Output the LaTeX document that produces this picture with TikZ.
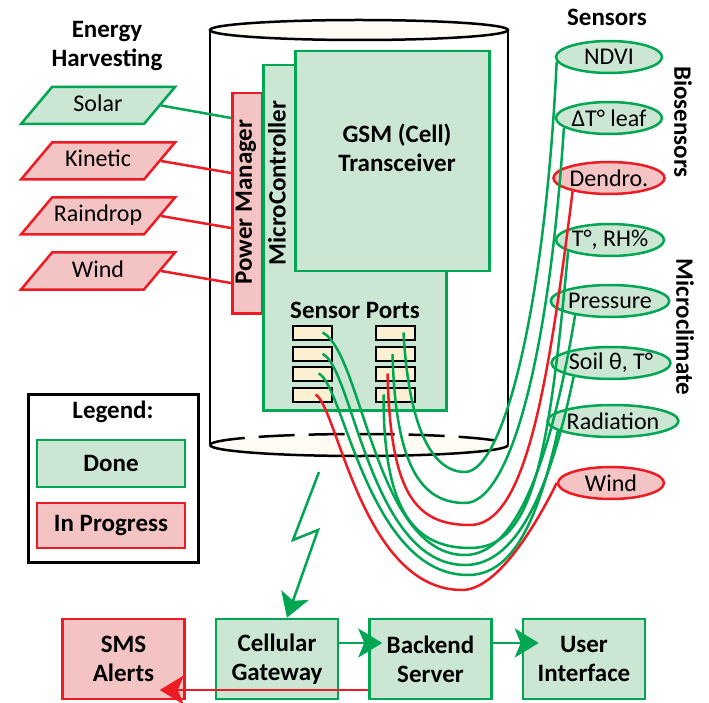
\documentclass[tikz,border=0pt]{standalone}
\usepackage{fontspec}
\setmainfont{Carlito}
\usetikzlibrary{arrows.meta,shapes.geometric}
\definecolor{donegreen}{HTML}{00A651}
\definecolor{donefill}{HTML}{CCE6D4}
\definecolor{progred}{HTML}{ED1C24}
\definecolor{progfill}{HTML}{F4C3C3}
\definecolor{portcream}{HTML}{FCF0D2}
\definecolor{caseshade}{HTML}{FDFBF3}

\begin{document}
\begin{tikzpicture}[x=1pt, y=-1pt, line width=2.5pt,
  font=\fontsize{24}{29}\selectfont,
  done/.style={draw=donegreen, fill=donefill},
  prog/.style={draw=progred, fill=progfill},
  head/.style={font=\fontsize{25}{29}\selectfont\bfseries, align=center},
  harvest/.style={trapezium, trapezium left angle=50, trapezium right angle=130,
    trapezium stretches body, minimum width=154pt, text height=17pt, text depth=5pt,
    inner xsep=0pt, inner ysep=7.5pt},
  sensor/.style={ellipse, minimum width=106pt, minimum height=32pt, inner sep=0pt},
  port/.style={draw=black, fill=portcream, line width=2pt, minimum width=39pt,
    minimum height=14pt, inner sep=0pt},
  stage/.style={head, rectangle, minimum width=122pt, minimum height=80pt},
  gwire/.style={donegreen},
  rwire/.style={progred},
  bigtip/.style={-{Stealth[length=24pt, width=29pt, inset=6pt]}}]
  \useasboundingbox (0,0) rectangle (709,703);

  % the case
  \draw (210,30) -- (210,445);
  \draw (508,30) -- (508,445);
  \fill[caseshade] (359,445) ellipse [x radius=149, y radius=11];
  \draw (210,445) arc [start angle=180, end angle=0, x radius=149, y radius=11];
  \draw[dash pattern=on 36pt off 14pt] (210,445) arc [start angle=180, end angle=360, x radius=149, y radius=11];
  \filldraw[fill=caseshade] (359,30) ellipse [x radius=149, y radius=10];

  % boards
  \node[prog, minimum width=30pt, minimum height=220pt, anchor=north west] (pm) at (231,92) {};
  \node[done, minimum width=183pt, minimum height=345pt, anchor=north west] (mc) at (262,64) {};
  \node[done, minimum width=194pt, minimum height=220pt, anchor=north west] (gsm) at (294,50) {};
  \node[head, rotate=90] at (246,202) {Power Manager};
  \node[head, rotate=90] at (277,183) {MicroController};
  \node[head] at (397,148) {GSM (Cell)\\Transceiver};
  \node[head] at (355,310) {Sensor Ports};
  \foreach \r [count=\i] in {332.5,354,373.5,394.5} {
    \node[port] (lp\i) at (312.5,\r) {};
    \node[port] (rp\i) at (395.5,\r) {};
  }

  % energy harvesting
  \node[head] at (107,46) {Energy\\Harvesting};
  \node[harvest, done] (solar) at (98,105.5) {Solar};
  \node[harvest, prog] (kinetic) at (98,161) {Kinetic};
  \node[harvest, prog] (rain) at (98,216) {Raindrop};
  \node[harvest, prog] (hwind) at (98,271) {Wind};
  \draw[gwire] (solar.east) -- ([yshift=-26pt]pm.north west);
  \draw[rwire] (kinetic.east) -- ([yshift=-81pt]pm.north west);
  \draw[rwire] (rain.east) -- ([yshift=-136pt]pm.north west);
  \draw[rwire] (hwind.east) -- ([yshift=-191pt]pm.north west);

  % sensors
  \node[head] at (607,17) {Sensors};
  \node[head, rotate=-90] at (683,122) {Biosensors};
  \node[head, rotate=-90] at (685,327) {Microclimate};
  \node[sensor, done] (ndvi) at (609,57) {NDVI};
  \node[sensor, done] (dtleaf) at (609,118) {ΔT° leaf};
  \node[sensor, prog] (dendro) at (609,178) {Dendro.};
  \node[sensor, done] (trh) at (610,240) {T°, RH\%};
  \node[sensor, done] (press) at (610,301) {Pressure};
  \node[sensor, done] (soil) at (611,363) {Soil θ, T°};
  \node[sensor, done] (rad) at (613,421) {Radiation};
  \node[sensor, prog] (swind) at (611,483) {Wind};

  % cables
  \coordinate (u1) at (465,472);
  \coordinate (u2) at (465,503);
  \coordinate (u3) at (470,525);
  \coordinate (u4) at (470,548);
  \coordinate (u5) at (465,555);
  \coordinate (u6) at (465,565);
  \coordinate (u7) at (468,575);
  \coordinate (u8) at (462,590);
  \draw[gwire] ([xshift=8pt]rp1.center) .. controls +(5,90) and +(-35,0) .. (u1)
    .. controls +(38,0) and +(-12,250) .. (ndvi.185);
  \draw[gwire] ([xshift=-3pt]rp2.center) .. controls +(3,110) and +(-45,0) .. (u2)
    .. controls +(45,0) and +(-15,230) .. (dtleaf.192);
  \draw[rwire] ([xshift=-8pt]rp3.center) .. controls +(3,120) and +(-55,0) .. (u3)
    .. controls +(55,0) and +(-25,200) .. (dendro.200);
  \draw[gwire] ([xshift=-12pt]rp4.center) .. controls +(0,110) and +(-60,0) .. (u4)
    .. controls +(60,0) and +(-20,220) .. (trh.195);
  \draw[gwire] ([xshift=10pt]lp1.center) .. controls +(40,20) and +(-90,0) .. (u5)
    .. controls +(50,0) and +(-25,150) .. (press.202);
  \draw[gwire] ([xshift=10pt]lp2.center) .. controls +(30,12) and +(-95,0) .. (u6)
    .. controls +(50,0) and +(-25,120) .. (soil.200);
  \draw[gwire] ([xshift=6pt]lp3.center) .. controls +(25,10) and +(-100,0) .. (u7)
    .. controls +(45,0) and +(-20,90) .. (rad.190);
  \draw[rwire] ([xshift=3pt]lp4.center) .. controls +(22,12) and +(-100,0) .. (u8)
    .. controls +(30,0) and +(-30,60) .. (swind.180);

  % legend
  \node[draw=black, minimum width=170pt, minimum height=168pt, anchor=north west] (legend) at (27,393) {};
  \node[head] at (113,412) {Legend:};
  \node[head, done, minimum width=148pt, minimum height=47pt] (ldone) at (111,463.5) {Done};
  \node[head, prog, minimum width=148pt, minimum height=45pt] (lprog) at (111,525.5) {In Progress};

  % back end
  \node[stage, prog] (sms) at (123.5,659) {SMS\\Alerts};
  \node[stage, done] (cell) at (277,659) {Cellular\\Gateway};
  \node[stage, done] (back) at (430.5,659) {Backend\\Server};
  \node[stage, done] (ui) at (584,659) {User\\Interface};
  \coordinate (bolt) at (319,472);
  \draw[gwire, bigtip] (bolt) -- ++(-26,68) -- ++(25,-10) -- ([xshift=10pt]cell.north);
  \draw[gwire, bigtip, shorten >=-14pt] ([yshift=16pt]cell.east) -- ([yshift=16pt]back.west);
  \draw[gwire, bigtip, shorten >=-17pt] ([yshift=16pt]back.east) -- ([yshift=16pt]ui.west);
  \draw[rwire, bigtip, shorten >=-26pt] ([yshift=-31pt]back.west) -- ([yshift=-31pt]sms.east);
\end{tikzpicture}
\end{document}
